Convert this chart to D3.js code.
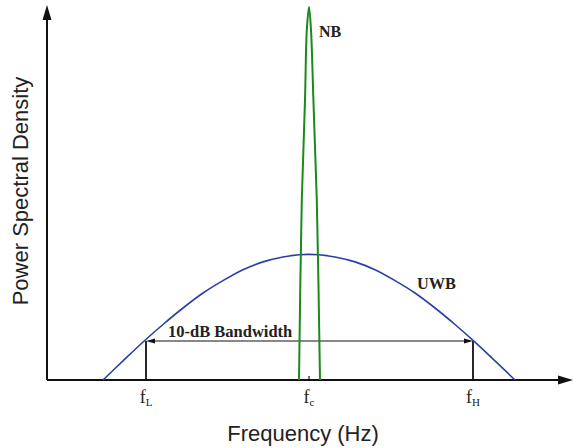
<!DOCTYPE html>
<html><head><meta charset="utf-8">
<script src="https://cdn.jsdelivr.net/npm/d3@7"></script>
<style>html,body{margin:0;padding:0;background:#fff;}svg{display:block;}</style>
</head><body>
<svg id="c" width="573" height="448"></svg>
<script>
// ---- data (arbitrary frequency units, PSD in % of axis height) ----
const uwbFreq = [2.8, 3.8, 4.9, 5.8, 6.8, 7.8, 8.8, 9.8, 10.8, 11.8, 12.6, 13.1, 13.6, 14.4, 15.4, 16.4, 17.4, 18.4, 19.4, 20.4, 21.4, 22.4, 23.4];
const uwbPsd  = [0, 5.1, 10.6, 14.8, 19.2, 23.2, 26.5, 29.4, 31.5, 32.8, 33.4, 33.5, 33.4, 32.8, 31.5, 29.4, 26.5, 23.2, 19.2, 14.8, 10.1, 5.1, 0];
const nbFreq  = [12.6, 12.74, 12.9, 12.99, 13.1, 13.2, 13.32, 13.49, 13.65];
const nbPsd   = [0, 48, 74.7, 93.3, 99.5, 93.3, 74.7, 48, 0];
const tickFreqs = [4.95, 13.1, 21.3];
const tickNames = ["L", "c", "H"];
const bandLevel = 10.4;
const bandLabel = "10-dB Bandwidth";
const xTitle = "Frequency (Hz)";
const yTitle = "Power Spectral Density";

const svg = d3.select("#c");
const x = d3.scaleLinear().domain([0, 26.3]).range([47, 573]);
const y = d3.scaleLinear().domain([0, 100]).range([380, 5]);

const serif = "'Liberation Serif', 'Times New Roman', serif";
const sans = "'Liberation Sans', Arial, sans-serif";

// axes
const axis = svg.append("g").attr("stroke", "#111").attr("stroke-width", 2);
axis.append("line").attr("x1", x(0)).attr("x2", x(26.3) - 10).attr("y1", y(0)).attr("y2", y(0));
axis.append("line").attr("x1", x(0)).attr("x2", x(0)).attr("y1", y(0)).attr("y2", y(100) + 10);
svg.append("path").attr("fill", "#111")
  .attr("d", `M${x(0)},${y(100)} L${x(0)-4.5},${y(100)+15} L${x(0)+4.5},${y(100)+15} Z`);
svg.append("path").attr("fill", "#111")
  .attr("d", `M${x(26.3)},${y(0)} L${x(26.3)-15},${y(0)-4.5} L${x(26.3)-15},${y(0)+4.5} Z`);

// fc tick
svg.append("line").attr("stroke", "#111").attr("stroke-width", 1.2)
  .attr("x1", x(tickFreqs[1])).attr("x2", x(tickFreqs[1])).attr("y1", y(0)).attr("y2", y(0) - 4);

// band markers
const bg = svg.append("g").attr("stroke", "#111");
[tickFreqs[0], tickFreqs[2]].forEach(f => {
  bg.append("line").attr("stroke-width", 1.8).attr("x1", x(f)).attr("x2", x(f)).attr("y1", y(0)).attr("y2", y(bandLevel));
});
bg.append("line").attr("stroke-width", 1).attr("x1", x(tickFreqs[0]) + 4).attr("x2", x(tickFreqs[2]) - 4)
  .attr("y1", y(bandLevel)).attr("y2", y(bandLevel));
const xl = x(tickFreqs[0]), xr = x(tickFreqs[2]), yb = y(bandLevel);
svg.append("path").attr("fill", "#111").attr("d", `M${xl},${yb} L${xl+9},${yb-2.5} L${xl+9},${yb+2.5} Z`);
svg.append("path").attr("fill", "#111").attr("d", `M${xr},${yb} L${xr-9},${yb-2.5} L${xr-9},${yb+2.5} Z`);

// curves
const uwb = uwbFreq.map((f, i) => [f, uwbPsd[i]]);
const nb = nbFreq.map((f, i) => [f, nbPsd[i]]);
const line = d3.line().x(d => x(d[0])).y(d => y(d[1])).curve(d3.curveCatmullRom);
svg.append("path").datum(uwb).attr("d", line).attr("fill", "none").attr("stroke", "#2b3fa6").attr("stroke-width", 1.6);
svg.append("path").datum(nb).attr("d", line).attr("fill", "none").attr("stroke", "#198a1c").attr("stroke-width", 2);

// labels
svg.append("text").attr("x", 319).attr("y", 37).attr("font-family", serif).attr("font-weight", "bold")
  .attr("font-size", 16).attr("fill", "#222").text("NB");
svg.append("text").attr("x", 417).attr("y", 289).attr("font-family", serif).attr("font-weight", "bold")
  .attr("font-size", 16.3).attr("fill", "#222").text("UWB");
svg.append("text").attr("x", 168).attr("y", 337).attr("font-family", serif).attr("font-weight", "bold")
  .attr("font-size", 16.5).attr("fill", "#222").text(bandLabel);

tickFreqs.forEach((f, i) => {
  const t = svg.append("text").attr("x", x(f)).attr("y", 403).attr("text-anchor", "middle")
    .attr("font-family", serif).attr("font-size", 18).attr("fill", "#222");
  t.append("tspan").text("f");
  t.append("tspan").attr("font-size", 11).attr("dy", 3).text(tickNames[i]);
});

svg.append("text").attr("x", 303).attr("y", 441).attr("text-anchor", "middle")
  .attr("font-family", sans).attr("font-size", 22).attr("fill", "#222").text(xTitle);
svg.append("text").attr("transform", "translate(28,191) rotate(-90)").attr("text-anchor", "middle")
  .attr("font-family", sans).attr("font-size", 22).attr("fill", "#222").text(yTitle);
</script>
</body></html>
